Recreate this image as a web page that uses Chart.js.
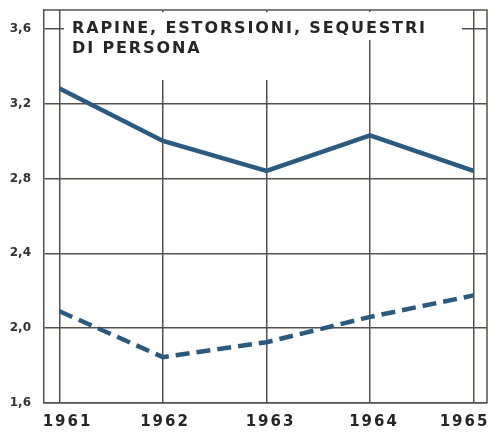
<!DOCTYPE html>
<html>
<head>
<meta charset="utf-8">
<script src="https://cdn.jsdelivr.net/npm/chart.js@4/dist/chart.umd.min.js"></script>
<style>
  html, body { margin: 0; padding: 0; background: #fff; }
  canvas { display: block; }
</style>
</head>
<body>
<canvas id="myChart" width="493" height="433"></canvas>
<script>
// data
const years = [1961, 1962, 1963, 1964, 1965];
const solidValues = [3.28, 3.0, 2.84, 3.03, 2.84];
const dashedValues = [2.09, 1.845, 1.925, 2.06, 2.175];
const yTicks = [1.6, 2.0, 2.4, 2.8, 3.2, 3.6];
const titleLines = ['RAPINE, ESTORSIONI, SEQUESTRI', 'DI PERSONA'];

const lineColor = '#2b5a80';
const gridColor = '#55524d';
// year labels are not quite centred in the scan
const yearShift = [7, 1, 3, 3, -10];

const decor = {
    id: 'decor',
    beforeDatasetsDraw: function (chart) {
        const ctx = chart.ctx;
        const a = chart.chartArea;
        ctx.save();
        // frame on top and right
        ctx.strokeStyle = gridColor;
        ctx.lineWidth = 1.5;
        ctx.beginPath();
        ctx.moveTo(a.left, a.top);
        ctx.lineTo(a.right, a.top);
        ctx.lineTo(a.right, a.bottom);
        ctx.stroke();
        // white behind the title
        ctx.fillStyle = '#fff';
        ctx.fillRect(64, a.top + 2, 398, 28);
        ctx.fillRect(64, a.top + 28, 216, 42);
        ctx.fillStyle = '#262626';
        ctx.font = 'bold 16px "DejaVu Sans"';
        const w = ctx.measureText(titleLines[0]).width;
        const sp = Math.max(0, (353 - w) / (titleLines[0].length - 1));
        ctx.letterSpacing = sp.toFixed(2) + 'px';
        ctx.textBaseline = 'middle';
        ctx.fillText(titleLines[0], 72, 29);
        ctx.fillText(titleLines[1], 72, 49);
        ctx.restore();
    },
    afterDraw: function (chart) {
        const ctx = chart.ctx;
        const xs = chart.scales.x;
        ctx.save();
        ctx.fillStyle = '#262626';
        ctx.font = 'bold 15px "DejaVu Sans"';
        ctx.letterSpacing = '2px';
        ctx.textAlign = 'center';
        ctx.textBaseline = 'middle';
        years.forEach((y, i) => {
            ctx.fillText(String(y), xs.getPixelForValue(y) + yearShift[i] + 1, 422);
        });
        ctx.restore();
    }
};

var ctx = document.getElementById('myChart').getContext('2d');
var chart = new Chart(ctx, {
    type: 'line',
    data: {
        datasets: [{
            data: years.map((y, i) => ({ x: y, y: solidValues[i] })),
            borderColor: lineColor,
            borderWidth: 4.5,
            pointRadius: 0,
            tension: 0
        }, {
            data: years.map((y, i) => ({ x: y, y: dashedValues[i] })),
            borderColor: lineColor,
            borderWidth: 4.5,
            borderDash: [14, 7],
            pointRadius: 0,
            tension: 0
        }]
    },
    plugins: [decor],
    options: {
        responsive: false,
        animation: false,
        layout: { padding: { top: 10, right: 6, left: 0, bottom: 0 } },
        plugins: { legend: { display: false }, tooltip: { enabled: false } },
        scales: {
            x: {
                type: 'linear',
                min: 1960.85,
                max: 1965.13,
                afterBuildTicks: function (scale) {
                    scale.ticks = years.map(v => ({ value: v }));
                },
                afterFit: function (scale) { scale.height = 30; },
                grid: { color: gridColor, lineWidth: 1.5, drawTicks: false },
                border: { color: gridColor, width: 1.5 },
                ticks: { display: false }
            },
            y: {
                min: 1.6,
                max: 3.7,
                afterBuildTicks: function (scale) {
                    scale.ticks = yTicks.map(v => ({ value: v }));
                },
                afterFit: function (scale) {
                    scale.width = 44;
                    scale.paddingTop = 0;
                    scale.paddingBottom = 0;
                },
                grid: { color: gridColor, lineWidth: 1.5, drawTicks: false },
                border: { color: gridColor, width: 1.5 },
                ticks: {
                    padding: 13,
                    color: '#333',
                    font: { family: 'DejaVu Sans', size: 12, weight: 'bold' },
                    callback: v => v.toFixed(1).replace('.', ',')
                }
            }
        }
    }
});
</script>
</body>
</html>
